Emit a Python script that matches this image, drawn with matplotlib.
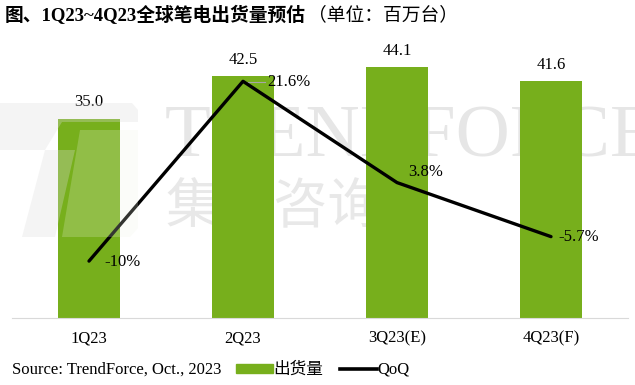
import matplotlib
matplotlib.use("Agg")
import matplotlib.pyplot as plt
from matplotlib.patches import Patch, Polygon
from matplotlib.lines import Line2D

quarters = ["1Q23", "2Q23", "3Q23(E)", "4Q23(F)"]
shipments = [35.0, 42.5, 44.1, 41.6]
qoq = [-10.0, 21.6, 3.8, -5.7]
qoq_labels = ["-10%", "21.6%", "3.8%", "-5.7%"]

GREEN = "#77AF1C"
SERIF = ["Liberation Serif", "Noto Sans CJK SC"]
CJK = ["Noto Sans CJK SC", "Liberation Serif"]
W, H = 635, 385


def px(x, y):
    # pixel position (from top-left) -> figure fraction
    return (x / W, 1 - y / H)


fig = plt.figure(figsize=(6.35, 3.85), dpi=100)

# watermark text, sits behind the bars
fig.text(*px(165, 139), "TRENDFORCE", fontsize=54, color="#e6e6e6",
         family="Liberation Serif", va="center", ha="left", zorder=-1)
fig.text(*px(165, 208), "集邦咨询", fontsize=39, color="#e8e8e8", family=CJK,
         va="center", ha="left", zorder=-1)

ax = fig.add_axes([12 / W, 1 - 318 / H, 616 / W, 284.5 / H])
ax.patch.set_alpha(0)
x = range(len(quarters))
ax.bar(x, shipments, width=0.40, color=GREEN, zorder=2)
ax.set_ylim(0, 50)
ax.set_xlim(-0.5, len(quarters) - 0.5)
ax.set_yticks([])
ax.set_xticks(list(x))
ax.set_xticklabels(quarters, family="Liberation Serif", fontsize=12)
ax.tick_params(axis="x", length=0, pad=9)
for s in ["top", "right", "left"]:
    ax.spines[s].set_visible(False)
ax.spines["bottom"].set_color("#d9d9d9")

for xi, v in zip(x, shipments):
    ax.text(xi, v + 1.5, f"{v:.1f}", ha="center", va="bottom",
            family="Liberation Serif", fontsize=12)

ax2 = ax.twinx()
ax2.set_ylim(-20, 30)
ax2.set_yticks([])
for s in ax2.spines.values():
    s.set_visible(False)
ax2.plot(list(x), qoq, color="black", linewidth=2.4, solid_capstyle="round", zorder=3)

offsets = [(0.10, -0.2), (0.16, -0.2), (0.07, 1.8), (0.05, 0.0)]
for xi, v, lab, (dx, dy) in zip(x, qoq, qoq_labels, offsets):
    ax2.text(xi + dx, v + dy, lab, ha="left", va="center", family="Liberation Serif", fontsize=12)
ax2.plot([1.03, 1.14], [qoq[1] - 0.1, qoq[1] - 0.1], color="#a6a6a6", linewidth=0.8)

# faint logo overlay on the left
logo_gray = dict(closed=True, transform=fig.transFigure, color="#dcdcdc", alpha=0.3,
                 linewidth=0, zorder=1)
logo_green = dict(closed=True, transform=fig.transFigure, color="#eef4e4", alpha=0.22,
                  linewidth=0, zorder=1)
fig.patches.append(Polygon([px(0, 103), px(132, 103), px(138, 110), px(138, 122),
                            px(0, 122)], **logo_gray))
fig.patches.append(Polygon([px(0, 122), px(62, 122), px(45, 150), px(0, 150)], **logo_gray))
fig.patches.append(Polygon([px(45, 150), px(75, 150), px(55, 237), px(22, 237)], **logo_gray))
fig.patches.append(Polygon([px(80, 130), px(138, 130), px(138, 228), px(130, 237),
                            px(62, 237)], **logo_green))

title = fig.text(5 / W, 1 - 15 / H, "图、1Q23~4Q23全球笔电出货量预估", fontsize=13.5,
                 fontweight="bold", family=SERIF, va="center", ha="left")
fig.canvas.draw()
bb = title.get_window_extent()
fig.text(bb.x1 / W + 0.003, 1 - 15 / H, "（单位：百万台）", fontsize=13.5, family=CJK,
         va="center", ha="left")

fig.text(12 / W, 1 - 370 / H, "Source: TrendForce, Oct., 2023", fontsize=12,
         family="Liberation Serif", va="center", ha="left")
handles = [Patch(color=GREEN), Line2D([], [], color="black", linewidth=2.6)]
fig.legend(handles, ["出货量", "QoQ"], ncol=2, loc="center left",
           bbox_to_anchor=(236 / W, 1 - 370 / H), frameon=False, handlelength=2.2,
           handleheight=0.45, handletextpad=0.05, columnspacing=1.0,
           prop={"family": SERIF, "size": 12}, borderpad=0, borderaxespad=0)

fig.savefig("out.png", dpi=100)
